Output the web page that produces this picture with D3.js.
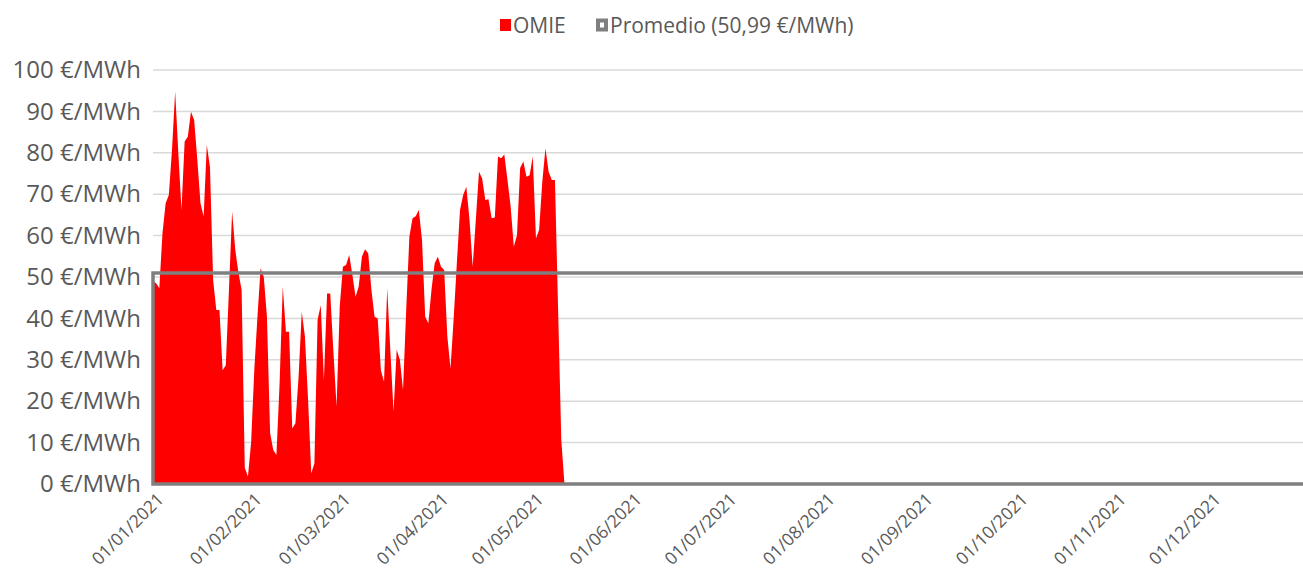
<!DOCTYPE html>
<html>
<head>
<meta charset="utf-8">
<script src="https://cdn.jsdelivr.net/npm/d3@7"></script>
<style>
  html, body { margin: 0; padding: 0; background: #ffffff; }
  svg { display: block; }
</style>
</head>
<body>
<svg id="chart" width="1303" height="577"></svg>
<script>
// ---- DATA ----
const startDate = "2021-01-01";
const omieValues = [
  49, 48.5, 47.3, 60.6, 67.8, 69.8, 80.7, 94.8, 80, 66.2,
  82.7, 83.9, 89.9, 87.9, 78.3, 67.8, 64.6, 81.9, 76.6, 49.3,
  42, 42, 27.5, 28.7, 47, 65.8, 56.5, 51, 46.9, 3.9,
  1.8, 10, 27.5, 40.4, 52.1, 50, 40.4, 12.3, 8.2, 7,
  24.4, 47.7, 36.8, 36.8, 13.4, 14.7, 25.9, 41.6, 35.6, 20.3,
  2.6, 5, 39.6, 43.2, 25.1, 46, 46, 32, 18.7, 42.8,
  52.5, 52.9, 55.3, 50.5, 45.2, 47.7, 54.9, 56.7, 55.7, 47,
  40.4, 40, 27.5, 24.7, 47.3, 32, 17.5, 32.4, 30, 22.7,
  42, 59.7, 64.2, 64.7, 66.2, 58.9, 40.4, 38.8, 47, 53.3,
  54.9, 52.5, 51.7, 35.6, 27.9, 40, 53.3, 66.2, 69.8, 71.8,
  63.8, 52.5, 63.8, 75.4, 73.8, 68.6, 68.8, 64.2, 64.4, 79.1,
  78.7, 79.6, 73.4, 67, 57.3, 60.1, 76.3, 77.9, 74.2, 74.6,
  79.1, 59.3, 61.4, 73, 81.1, 75.4, 73.4, 73.4, 42, 10.6,
  0
];
const promedioValue = 50.99;
const promedioRange = ["2021-01-01", "2021-12-31"];
const xTickLabels = ["01/01/2021","01/02/2021","01/03/2021","01/04/2021","01/05/2021","01/06/2021",
                     "01/07/2021","01/08/2021","01/09/2021","01/10/2021","01/11/2021","01/12/2021"];
const yTicks = [0, 10, 20, 30, 40, 50, 60, 70, 80, 90, 100];
const legendLabels = ["OMIE", "Promedio (50,99 €/MWh)"];

// ---- CHART ----
(function () {
  const parseISO = d3.timeParse("%Y-%m-%d");
  const parseDMY = d3.timeParse("%d/%m/%Y");
  const start = parseISO(startDate);
  const omie = omieValues.map((v, i) => ({ date: d3.timeDay.offset(start, i), value: v }));
  const promedio = promedioRange.map(s => ({ date: parseISO(s), value: promedioValue }));

  const svg = d3.select("#chart");
  const mLeft = 153, mRight = 1303, mTop = 70, mBottom = 484;
  const pxPerDay = 3.165;

  const x = d3.scaleTime()
    .domain([parseISO("2021-01-01"), parseISO("2022-01-01")])
    .range([mLeft, mLeft + 365 * pxPerDay]);
  const y = d3.scaleLinear().domain([0, 100]).range([mBottom, mTop]);

  const font = "'Open Sans', 'DejaVu Sans', sans-serif";
  const textColor = "#595959";

  // gridlines
  svg.append("g").selectAll("line")
    .data(yTicks.filter(d => d > 0))
    .join("line")
    .attr("x1", mLeft).attr("x2", mRight)
    .attr("y1", d => y(d)).attr("y2", d => y(d))
    .attr("stroke", "#d9d9d9").attr("stroke-width", 1.5);

  // baseline
  svg.append("line")
    .attr("x1", mLeft).attr("x2", mRight)
    .attr("y1", y(0)).attr("y2", y(0))
    .attr("stroke", "#bfbfbf").attr("stroke-width", 2);

  // OMIE area
  const area = d3.area()
    .x(d => x(d.date))
    .y0(y(0))
    .y1(d => y(d.value));
  svg.append("path")
    .datum(omie)
    .attr("d", area)
    .attr("fill", "#ff0000");

  // Promedio outline area
  svg.append("path")
    .datum(promedio)
    .attr("d", area)
    .attr("fill", "none")
    .attr("stroke", "#7f7f7f")
    .attr("stroke-width", 3.5);

  // Y axis
  const yAxis = svg.append("g")
    .attr("transform", `translate(${mLeft},0)`)
    .call(d3.axisLeft(y).tickValues(yTicks).tickFormat(d => d + " €/MWh").tickSize(0).tickPadding(12));
  yAxis.select(".domain").remove();
  yAxis.selectAll("text")
    .attr("font-family", font).attr("font-size", 24).attr("fill", textColor);

  // X axis
  const xAxis = svg.append("g")
    .attr("transform", `translate(0,${mBottom})`)
    .call(d3.axisBottom(x)
      .tickValues(xTickLabels.map(parseDMY))
      .tickFormat((d, i) => xTickLabels[i])
      .tickSize(0));
  xAxis.select(".domain").remove();
  xAxis.selectAll("text")
    .attr("x", 0).attr("y", 0).attr("dy", "0.35em")
    .attr("text-anchor", "end")
    .attr("transform", "translate(7,12) rotate(-45)")
    .attr("font-family", font).attr("font-size", 17.5).attr("fill", textColor);

  // Legend
  const lg = svg.append("g").attr("font-family", font).attr("font-size", 21).attr("fill", textColor);
  lg.append("rect").attr("x", 500).attr("y", 19).attr("width", 11).attr("height", 12).attr("fill", "#ff0000");
  lg.append("text").attr("x", 513).attr("y", 26).attr("dy", "0.35em").text(legendLabels[0]);
  lg.append("rect").attr("x", 598).attr("y", 20.5).attr("width", 8).attr("height", 9)
    .attr("fill", "none").attr("stroke", "#7f7f7f").attr("stroke-width", 4);
  lg.append("text").attr("x", 610).attr("y", 26).attr("dy", "0.35em").text(legendLabels[1]);
})();
</script>
</body>
</html>
